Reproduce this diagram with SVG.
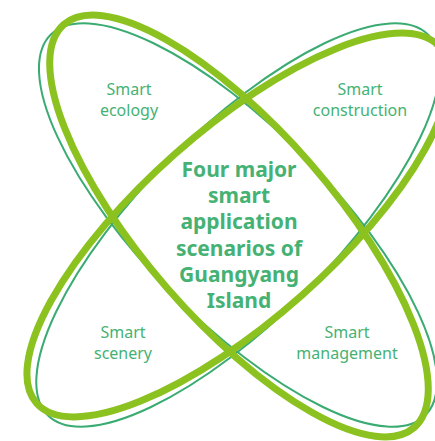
<svg xmlns="http://www.w3.org/2000/svg" width="435" height="441" viewBox="0 0 435 441">
  <style>
    .thick { fill: none; stroke: #8cc21f; stroke-width: 7; }
    .thin { fill: none; stroke: #3aab72; stroke-width: 2; }
    .lbl { font-family: "Noto Sans", "Open Sans", sans-serif; font-size: 16px; fill: #45b274; text-anchor: middle; }
    .title { font-family: "Noto Sans", "Open Sans", sans-serif; font-size: 21px; font-weight: bold; fill: #45b274; text-anchor: middle; }
  </style>
  <rect width="435" height="441" fill="#ffffff"/>
  <g id="connectors">
    <ellipse class="thin" cx="238" cy="225" rx="267" ry="95" transform="rotate(45.5 238 225)"/>
    <ellipse class="thin" cx="238" cy="225" rx="269" ry="95" transform="rotate(-45 238 225)"/>
    <ellipse class="thick" cx="239" cy="226" rx="267" ry="95" transform="rotate(49 239 226)"/>
    <ellipse class="thick" cx="238" cy="225" rx="269" ry="95" transform="rotate(-41.5 238 225)"/>
  </g>
  <g id="center">
    <text class="title" x="239" y="177">Four major</text>
    <text class="title" x="239" y="203">smart</text>
    <text class="title" x="239" y="229">application</text>
    <text class="title" x="239" y="256">scenarios of</text>
    <text class="title" x="239" y="282">Guangyang</text>
    <text class="title" x="239" y="308">Island</text>
  </g>
  <g id="ecology">
    <text class="lbl" x="129" y="95">Smart</text>
    <text class="lbl" x="129" y="116">ecology</text>
  </g>
  <g id="construction">
    <text class="lbl" x="360" y="95">Smart</text>
    <text class="lbl" x="360" y="116">construction</text>
  </g>
  <g id="scenery">
    <text class="lbl" x="123" y="338">Smart</text>
    <text class="lbl" x="123" y="359">scenery</text>
  </g>
  <g id="management">
    <text class="lbl" x="347" y="338">Smart</text>
    <text class="lbl" x="347" y="359">management</text>
  </g>
</svg>
